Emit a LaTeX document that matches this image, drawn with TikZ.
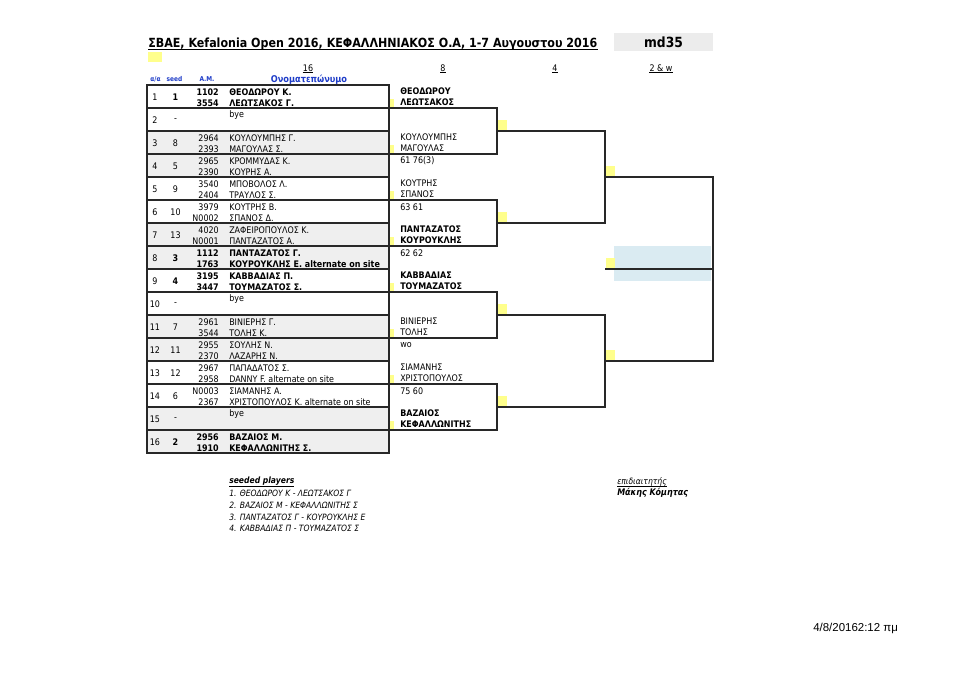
\documentclass[tikz,border=0pt]{standalone}
\usepackage{fontspec}
\newfontfamily\tf[FakeStretch=0.88]{DejaVu Sans}
\newfontfamily\arialf{Liberation Sans}
\definecolor{yel}{RGB}{255,255,140}
\definecolor{rowg}{RGB}{239,239,239}
\definecolor{boxg}{RGB}{236,236,236}
\definecolor{bluebg}{RGB}{218,235,242}
\definecolor{hblue}{RGB}{30,60,200}
\definecolor{linec}{RGB}{40,40,40}
\tikzset{
  ln/.style={line width=0.8pt, draw=linec},
  t/.style={inner sep=0pt, font=\tf\fontsize{6.8}{7}\selectfont, text=black},
  tb/.style={inner sep=0pt, font=\tf\bfseries\fontsize{6.8}{7}\selectfont, text=black},
  hb/.style={inner sep=0pt, font=\tf\bfseries\fontsize{5}{6}\selectfont, text=hblue},
  ttl/.style={inner sep=0pt, font=\tf\bfseries\fontsize{9.45}{12}\selectfont},
  it/.style={inner sep=0pt, font=\tf\itshape\fontsize{6.5}{7}\selectfont, anchor=west},
  mk/.style={fill=yel, draw=none}
}
\newcommand\prow[7]{%
  \pgfmathsetmacro\yt{85+23*(#1-1)}
  \node[t] (r#1i) at (155,\yt+12) {#1};
  \node[#7] (r#1s) at (175.5,\yt+12) {#2};
  \node[#7,anchor=east] (r#1a) at (219,\yt+7) {#3};
  \node[#7,anchor=east] (r#1b) at (219,\yt+18) {#5};
  \node[#7,anchor=west] (r#1n) at (229,\yt+7) {#4};
  \node[#7,anchor=west] (r#1m) at (229,\yt+18) {#6};
}
\newcommand\byerow[1]{%
  \pgfmathsetmacro\yt{85+23*(#1-1)}
  \node[t] (r#1i) at (155,\yt+12) {#1};
  \node[t] (r#1s) at (175.5,\yt+12) {-};
  \node[t,anchor=west] (r#1n) at (229,\yt+6.5) {bye};
}
\newcommand\rtwo[5]{%
  \pgfmathsetmacro\yl{108+46*(#1-1)}
  \coordinate (e#1) at (389,\yl);
  \fill[mk] (389.5,\yl-9) rectangle (394,\yl-1);
  \node[#5,anchor=west] (w#1a) at (400,\yl-17) {#2};
  \node[#5,anchor=west] (w#1b) at (400,\yl-5.8) {#3};
  \node[t,anchor=west] (w#1c) at (400,\yl+7) {#4};
}
\begin{document}
\begin{tikzpicture}[x=0.75pt,y=-0.75pt]
\useasboundingbox (0,0) rectangle (960,678);
\fill[white] (0,0) rectangle (960,678);
% title block
\node[ttl,anchor=base west] (title) at (148,47) {ΣΒΑΕ, Kefalonia Open 2016, ΚΕΦΑΛΛΗΝΙΑΚΟΣ Ο.Α, 1-7 Αυγουστου 2016};
\draw[line width=0.8pt] ([yshift=-2pt]title.base west) -- ([yshift=-2pt]title.base east);
\fill[boxg] (614,33) rectangle (713,51);
\node[ttl,font=\tf\bfseries\fontsize{10.5}{12}\selectfont] (md) at (663.5,42) {md35};
\fill[yel] (148,52) rectangle (162,62);
% column headers
\foreach \x/\lab/\nm in {308/16/h16, 443/8/h8, 555/4/h4, 661/2 \& w/h2}{
  \node[t,anchor=base] (\nm) at (\x,71) {\lab};
  \draw[line width=0.4pt] ([yshift=-1.3pt]\nm.base west) -- ([yshift=-1.3pt]\nm.base east);
}
\node[hb] (haa) at (155.5,79) {α/α};
\node[hb] (hseed) at (174.5,79) {seed};
\node[hb] (ham) at (207,79) {A.M.};
\node[hb,font=\tf\bfseries\fontsize{7}{8}\selectfont] (hname) at (309,79.5) {Ονοματεπώνυμο};
% table fills
\foreach \r in {3,7,11,15}{
  \fill[rowg] (147,{85+23*(\r-1)}) rectangle (389,{85+23*(\r+1)});
}
% light blue final box
\fill[bluebg] (614,246) rectangle (711,281);
% table lines
\foreach \r in {1,...,15}{
  \draw[ln] (147,{85+23*\r}) -- (389,{85+23*\r});
}
\draw[line width=1pt, draw=linec] (147,85) rectangle (389,453);
% players
\prow{1}{1}{1102}{ΘΕΟΔΩΡΟΥ Κ.}{3554}{ΛΕΩΤΣΑΚΟΣ Γ.}{tb}
\byerow{2}
\prow{3}{8}{2964}{ΚΟΥΛΟΥΜΠΗΣ Γ.}{2393}{ΜΑΓΟΥΛΑΣ Σ.}{t}
\prow{4}{5}{2965}{ΚΡΟΜΜΥΔΑΣ Κ.}{2390}{ΚΟΥΡΗΣ Α.}{t}
\prow{5}{9}{3540}{ΜΠΟΒΟΛΟΣ Λ.}{2404}{ΤΡΑΥΛΟΣ Σ.}{t}
\prow{6}{10}{3979}{ΚΟΥΤΡΗΣ Β.}{N0002}{ΣΠΑΝΟΣ Δ.}{t}
\prow{7}{13}{4020}{ΖΑΦΕΙΡΟΠΟΥΛΟΣ Κ.}{N0001}{ΠΑΝΤΑΖΑΤΟΣ Α.}{t}
\prow{8}{3}{1112}{ΠΑΝΤΑΖΑΤΟΣ Γ.}{1763}{ΚΟΥΡΟΥΚΛΗΣ Ε. alternate on site}{tb}
\prow{9}{4}{3195}{ΚΑΒΒΑΔΙΑΣ Π.}{3447}{ΤΟΥΜΑΖΑΤΟΣ Σ.}{tb}
\byerow{10}
\prow{11}{7}{2961}{ΒΙΝΙΕΡΗΣ Γ.}{3544}{ΤΟΛΗΣ Κ.}{t}
\prow{12}{11}{2955}{ΣΟΥΛΗΣ Ν.}{2370}{ΛΑΖΑΡΗΣ Ν.}{t}
\prow{13}{12}{2967}{ΠΑΠΑΔΑΤΟΣ Σ.}{2958}{DANNY F. alternate on site}{t}
\prow{14}{6}{N0003}{ΣΙΑΜΑΝΗΣ Α.}{2367}{ΧΡΙΣΤΟΠΟΥΛΟΣ Κ. alternate on site}{t}
\byerow{15}
\prow{16}{2}{2956}{ΒΑΖΑΙΟΣ Μ.}{1910}{ΚΕΦΑΛΛΩΝΙΤΗΣ Σ.}{tb}
% round of 8 entries
\rtwo{1}{ΘΕΟΔΩΡΟΥ}{ΛΕΩΤΣΑΚΟΣ}{}{tb}
\rtwo{2}{ΚΟΥΛΟΥΜΠΗΣ}{ΜΑΓΟΥΛΑΣ}{61 76(3)}{t}
\rtwo{3}{ΚΟΥΤΡΗΣ}{ΣΠΑΝΟΣ}{63 61}{t}
\rtwo{4}{ΠΑΝΤΑΖΑΤΟΣ}{ΚΟΥΡΟΥΚΛΗΣ}{62 62}{tb}
\rtwo{5}{ΚΑΒΒΑΔΙΑΣ}{ΤΟΥΜΑΖΑΤΟΣ}{}{tb}
\rtwo{6}{ΒΙΝΙΕΡΗΣ}{ΤΟΛΗΣ}{wo}{t}
\rtwo{7}{ΣΙΑΜΑΝΗΣ}{ΧΡΙΣΤΟΠΟΥΛΟΣ}{75 60}{t}
\rtwo{8}{ΒΑΖΑΙΟΣ}{ΚΕΦΑΛΛΩΝΙΤΗΣ}{}{tb}
% bracket coordinates
\foreach \j in {1,...,4}{
  \coordinate (q\j) at (497,{131+92*(\j-1)});
  \fill[mk] (497.5,{120+92*(\j-1)}) rectangle (506.5,{130.5+92*(\j-1)});
}
\coordinate (s1) at (605,177);
\coordinate (s2) at (605,361);
\fill[mk] (605.5,165.5) rectangle (615,176.5);
\fill[mk] (605.5,349.5) rectangle (615,360.5);
\coordinate (fw) at (605,269);
\coordinate (fr) at (713,269);
\fill[mk] (605.5,257.5) rectangle (614.5,268.5);
% bracket lines
\draw[ln] (e1) -| (q1) |- (e2);
\draw[ln] (e3) -| (q2) |- (e4);
\draw[ln] (e5) -| (q3) |- (e6);
\draw[ln] (e7) -| (q4) |- (e8);
\draw[ln] (q1) -| (s1) |- (q2);
\draw[ln] (q3) -| (s2) |- (q4);
\draw[ln] (s1) -| (fr) |- (s2);
\draw[ln] (fw) -- (fr);
% seeded players
\node[it] (sp0) at (229,482) {\underline{\bfseries seeded players}};
\node[it] (sp1) at (229,493) {1. ΘΕΟΔΩΡΟΥ Κ - ΛΕΩΤΣΑΚΟΣ Γ};
\node[it] (sp2) at (229,505) {2. ΒΑΖΑΙΟΣ Μ - ΚΕΦΑΛΛΩΝΙΤΗΣ Σ};
\node[it] (sp3) at (229,517) {3. ΠΑΝΤΑΖΑΤΟΣ Γ - ΚΟΥΡΟΥΚΛΗΣ Ε};
\node[it] (sp4) at (229,528) {4. ΚΑΒΒΑΔΙΑΣ Π - ΤΟΥΜΑΖΑΤΟΣ Σ};
\node[it] (ref0) at (617,482) {επιδιαιτητής};
\draw[line width=0.4pt] ([yshift=-1.2pt]ref0.base west) -- ([yshift=-1.2pt]ref0.base east);
\node[it,font=\tf\bfseries\itshape\fontsize{6.8}{7}\selectfont] (ref1) at (617,493) {Μάκης Κόμητας};
% timestamp
\node[inner sep=0pt,anchor=west,font=\arialf\fontsize{8.6}{9}\selectfont] (ts) at (813,628) {4/8/20162:12 πμ};
\end{tikzpicture}
\end{document}
